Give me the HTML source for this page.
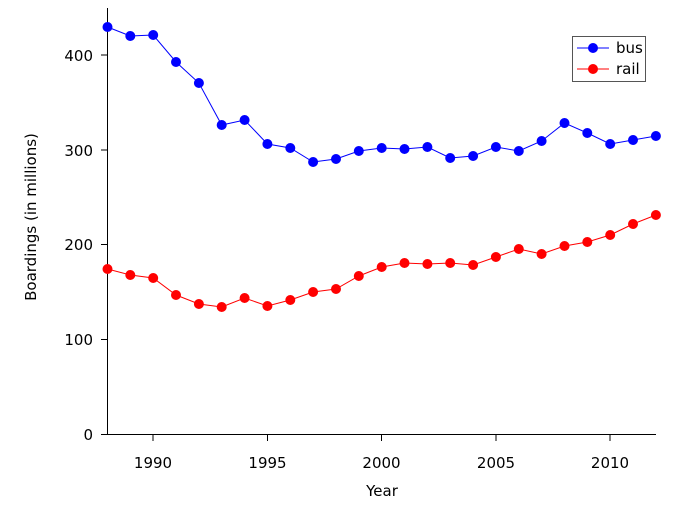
<!DOCTYPE html>
<html><head><style>body{margin:0;background:#fff}svg{display:block}text{font-family:"DejaVu Sans","Liberation Sans",sans-serif;font-size:15px;fill:#000}</style></head>
<body>
<svg width="683" height="512" viewBox="0 0 683 512">
<g stroke="#000" stroke-width="1">
<line x1="107.5" y1="8" x2="107.5" y2="434.5"/>
<line x1="107.5" y1="434.5" x2="656" y2="434.5"/>
<line x1="107.5" y1="434.5" x2="101" y2="434.5"/>
<line x1="107.5" y1="339.5" x2="101" y2="339.5"/>
<line x1="107.5" y1="244.5" x2="101" y2="244.5"/>
<line x1="107.5" y1="150" x2="101" y2="150"/>
<line x1="107.5" y1="55" x2="101" y2="55"/>
<line x1="153" y1="434.5" x2="153" y2="441"/>
<line x1="267.5" y1="434.5" x2="267.5" y2="441"/>
<line x1="381.5" y1="434.5" x2="381.5" y2="441"/>
<line x1="496" y1="434.5" x2="496" y2="441"/>
<line x1="610" y1="434.5" x2="610" y2="441"/>
</g>
<g text-anchor="end">
<text x="93" y="440">0</text><text x="93" y="345">100</text><text x="93" y="250">200</text><text x="93" y="156">300</text><text x="93" y="61">400</text>
</g>
<g text-anchor="middle">
<text x="153" y="468">1990</text><text x="267.5" y="468">1995</text><text x="381.5" y="468">2000</text><text x="496" y="468">2005</text><text x="610" y="468">2010</text>
<text x="382" y="496">Year</text>
<text transform="translate(36,217) rotate(-90)">Boardings (in millions)</text>
</g>
<polyline fill="none" stroke="#00f" stroke-width="1" points="107.5,27 130.3,36 153.2,35 176,62 198.9,83 221.7,125 244.6,120 267.4,144 290.3,148 313.1,162 336,159 358.8,151 381.7,148 404.5,149 427.4,147 450.2,158 473.1,156 495.9,147 518.8,151 541.6,141 564.5,123 587.3,133 610.2,144 633,140 655.9,136"/>
<g fill="#00f">
<circle cx="107.5" cy="27" r="5"/><circle cx="130.3" cy="36" r="5"/><circle cx="153.2" cy="35" r="5"/><circle cx="176" cy="62" r="5"/><circle cx="198.9" cy="83" r="5"/><circle cx="221.7" cy="125" r="5"/><circle cx="244.6" cy="120" r="5"/><circle cx="267.4" cy="144" r="5"/><circle cx="290.3" cy="148" r="5"/><circle cx="313.1" cy="162" r="5"/><circle cx="336" cy="159" r="5"/><circle cx="358.8" cy="151" r="5"/><circle cx="381.7" cy="148" r="5"/><circle cx="404.5" cy="149" r="5"/><circle cx="427.4" cy="147" r="5"/><circle cx="450.2" cy="158" r="5"/><circle cx="473.1" cy="156" r="5"/><circle cx="495.9" cy="147" r="5"/><circle cx="518.8" cy="151" r="5"/><circle cx="541.6" cy="141" r="5"/><circle cx="564.5" cy="123" r="5"/><circle cx="587.3" cy="133" r="5"/><circle cx="610.2" cy="144" r="5"/><circle cx="633" cy="140" r="5"/><circle cx="655.9" cy="136" r="5"/>
</g>
<polyline fill="none" stroke="#f00" stroke-width="1" points="107.5,269 130.3,275 153.2,278 176,295 198.9,304 221.7,307 244.6,298 267.4,306 290.3,300 313.1,292 336,289 358.8,276 381.7,267 404.5,263 427.4,264 450.2,263 473.1,265 495.9,257 518.8,249 541.6,254 564.5,246 587.3,242 610.2,235 633,224 655.9,215"/>
<g fill="#f00">
<circle cx="107.5" cy="269" r="5"/><circle cx="130.3" cy="275" r="5"/><circle cx="153.2" cy="278" r="5"/><circle cx="176" cy="295" r="5"/><circle cx="198.9" cy="304" r="5"/><circle cx="221.7" cy="307" r="5"/><circle cx="244.6" cy="298" r="5"/><circle cx="267.4" cy="306" r="5"/><circle cx="290.3" cy="300" r="5"/><circle cx="313.1" cy="292" r="5"/><circle cx="336" cy="289" r="5"/><circle cx="358.8" cy="276" r="5"/><circle cx="381.7" cy="267" r="5"/><circle cx="404.5" cy="263" r="5"/><circle cx="427.4" cy="264" r="5"/><circle cx="450.2" cy="263" r="5"/><circle cx="473.1" cy="265" r="5"/><circle cx="495.9" cy="257" r="5"/><circle cx="518.8" cy="249" r="5"/><circle cx="541.6" cy="254" r="5"/><circle cx="564.5" cy="246" r="5"/><circle cx="587.3" cy="242" r="5"/><circle cx="610.2" cy="235" r="5"/><circle cx="633" cy="224" r="5"/><circle cx="655.9" cy="215" r="5"/>
</g>
<rect x="572.5" y="36.5" width="73" height="45" fill="#fff" stroke="#555" stroke-width="1"/>
<line x1="577" y1="48" x2="609" y2="48" stroke="#00f"/><circle cx="593" cy="48" r="5" fill="#00f"/>
<line x1="577" y1="69" x2="609" y2="69" stroke="#f00"/><circle cx="593" cy="69" r="5" fill="#f00"/>
<text x="616" y="53">bus</text><text x="616" y="74">rail</text>
</svg>
</body></html>
